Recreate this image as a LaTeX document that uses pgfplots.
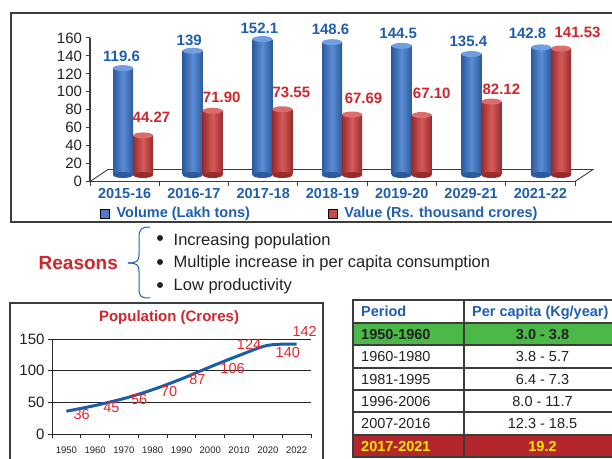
\documentclass[border=0pt]{standalone}
\usepackage{pgfplots}
\pgfplotsset{compat=1.18}
\usepackage{pgfplotstable}
\usepackage{fontspec}
\setmainfont{Liberation Sans}

\definecolor{bbd}{HTML}{2C5A9C}
\definecolor{bbm}{HTML}{5A8DD6}
\definecolor{bbt}{HTML}{6F9FE0}
\definecolor{rbd}{HTML}{9A2B2C}
\definecolor{rbm}{HTML}{D65A5A}
\definecolor{rbt}{HTML}{DB6E6D}
\definecolor{lblue}{HTML}{1F5FAD}
\definecolor{lred}{HTML}{D0262C}
\definecolor{popred}{HTML}{E8262B}
\definecolor{popline}{HTML}{1C5DAA}
\definecolor{framegray}{HTML}{3C3C3C}
\definecolor{rowgreen}{HTML}{4CB848}
\definecolor{rowred}{HTML}{B3272C}
\definecolor{rowyellow}{HTML}{FFE500}
\definecolor{legblue}{HTML}{4A7EC8}
\definecolor{legred}{HTML}{C84B4B}
\definecolor{txt}{HTML}{222222}

\pgfdeclareplotmark{cyltop}{\pgfpathellipse{\pgfpointorigin}{\pgfqpoint{10pt}{0pt}}{\pgfqpoint{0pt}{3pt}}\pgfusepathqfill}

\pgfplotstableread{
x vol val bx by rx ry
0 119.6 44.27 -1.5 12 8.5 18
1 139 71.90 -3.5 10.7 9 13.7
2 152.1 73.55 -3 11 9 17
3 148.6 67.69 -1.5 12.8 11.5 16.5
4 144.5 67.10 -3.5 12.5 10 22
5 135.4 82.12 -3 12.3 10 12.6
6 142.8 141.53 -13.5 14 16.5 16.5
}\bardata

\pgfplotstableread{
x p dx dy
0 36 15.3 -3
1 45 16.3 -2.3
2 56 15.3 -1.3
3 70 16.3 -2
4 87 16 -1.1
5 106 22.3 -1.4
6 124 10 11.5
7 140 20 -7.3
8 142 8 12.4
}\popdata

\begin{document}
\begin{tikzpicture}
\begin{scope}
\clip (0pt,0pt) rectangle (612pt,458pt);
\fill[white] (0pt,0pt) rectangle (612pt,458pt);
% top frame
\draw[framegray, line width=1.6pt] (11pt,445pt) rectangle (622pt,236pt);
% 3D floor
\draw[framegray, line width=0.9pt] (90pt,276.5pt) -- (108pt,288.5pt) -- (593pt,288.5pt) -- (575pt,276.5pt);

% frame axis of bar chart
\begin{axis}[at={(90pt,276.5pt)}, anchor=south west, scale only axis,
  width=485pt, height=143.5pt, xmin=-0.5, xmax=6.5, ymin=0, ymax=160,
  axis x line*=bottom, axis y line*=left,
  ytick={0,20,...,160},
  xtick={-0.5,0.5,...,6.5}, x tick label as interval,
  xticklabels={2015-16,2016-17,2017-18,2018-19,2019-20,2029-21,2021-22},
  tick align=outside, major tick length=4.5pt,
  axis line style={framegray, line width=1.1pt},
  tick style={framegray, line width=1pt},
  yticklabel style={font=\fontsize{15}{15}\selectfont, text=txt},
  xticklabel style={font=\fontsize{14.5}{14.5}\bfseries, text=lblue, yshift=1pt},
  /pgf/number format/assume math mode=true]
\addplot[draw=none] coordinates {(0,0)};
\end{axis}

% bars
\begin{axis}[at={(98.17pt,283pt)}, anchor=south west, scale only axis,
  width=487.7pt, height=143pt, xmin=-0.5, xmax=6.5, ymin=0, ymax=160,
  hide axis, clip=false,
  legend style={at={(axis description cs:0.0037,-0.269)}, anchor=west,
    draw=none, fill=none, inner sep=0pt,
    font=\fontsize{14.5}{14.5}\bfseries, text=lblue,
    /tikz/every odd column/.append style={column sep=5pt},
    /tikz/every even column/.append style={column sep=76pt}},
  legend columns=2,
  legend image code/.code={\fill[#1] (0pt,-4.5pt) rectangle (9pt,4.5pt);}]
\addplot[only marks, mark=cyltop, mark options={fill=bbd}, forget plot]
  table[x expr=\thisrow{x}-0.14354, y expr=0]{\bardata};
\addplot[only marks, mark=cyltop, mark options={fill=rbd}, forget plot]
  table[x expr=\thisrow{x}+0.14354, y expr=0]{\bardata};
\pgfplotsinvokeforeach{0,...,6}{
  \addplot[ybar, bar width=20pt, bar shift=-10pt, draw=none,
    left color=bbd, right color=bbd, middle color=bbm, forget plot,
    restrict expr to domain={\coordindex}{#1:#1}]
    table[x=x,y=vol]{\bardata};
  \addplot[ybar, bar width=20pt, bar shift=10pt, draw=none,
    left color=rbd, right color=rbd, middle color=rbm, forget plot,
    restrict expr to domain={\coordindex}{#1:#1}]
    table[x=x,y=val]{\bardata};
}
\addplot[only marks, mark=cyltop, mark options={fill=bbt}, forget plot,
  nodes near coords={\pgfmathprintnumber[assume math mode=true]{\pgfplotspointmeta}},
  visualization depends on={\thisrow{bx} \as \bx},
  visualization depends on={\thisrow{by} \as \by},
  every node near coord/.style={font=\fontsize{15}{15}\bfseries, text=lblue,
    anchor=center, xshift={\bx*1pt}, yshift={\by*1pt}}]
  table[x expr=\thisrow{x}-0.14354, y=vol]{\bardata};
\addplot[only marks, mark=cyltop, mark options={fill=rbt}, forget plot,
  nodes near coords={\pgfmathprintnumber[fixed,fixed zerofill,precision=2,assume math mode=true]{\pgfplotspointmeta}},
  visualization depends on={\thisrow{rx} \as \rx},
  visualization depends on={\thisrow{ry} \as \ry},
  every node near coord/.style={font=\fontsize{15}{15}\bfseries, text=lred,
    anchor=center, xshift={\rx*1pt}, yshift={\ry*1pt}}]
  table[x expr=\thisrow{x}+0.14354, y=val]{\bardata};
\addlegendimage{fill=legblue}
\addlegendentry{Volume (Lakh tons)}
\addlegendimage{fill=legred}
\addlegendentry{Value (Rs. thousand crores)}
\end{axis}

% Reasons
\node[anchor=base west, inner sep=0pt, font=\fontsize{19}{19}\bfseries, text=lred] at (38.5pt,189pt) {Reasons};
\draw[lblue, line width=1pt] (150pt,231pt) .. controls (141pt,231pt) and (139pt,229pt) .. (139pt,220pt) -- (139pt,203pt) .. controls (139pt,197pt) and (137pt,195pt) .. (128pt,195pt);
\draw[lblue, line width=1pt] (128pt,195pt) .. controls (137pt,195pt) and (139pt,193pt) .. (139pt,187pt) -- (139pt,170pt) .. controls (139pt,161pt) and (141pt,160pt) .. (150pt,160pt);
\fill[txt] (160pt,220pt) circle (3pt);
\fill[txt] (160pt,196pt) circle (3pt);
\fill[txt] (160pt,173pt) circle (3pt);
\node[anchor=base west, inner sep=0pt, font=\fontsize{16.5}{16.5}\selectfont, text=txt] at (173.5pt,212.7pt) {Increasing population};
\node[anchor=base west, inner sep=0pt, font=\fontsize{16.5}{16.5}\selectfont, text=txt] at (173.5pt,190.1pt) {Multiple increase in per capita consumption};
\node[anchor=base west, inner sep=0pt, font=\fontsize{16.5}{16.5}\selectfont, text=txt] at (173.5pt,167.1pt) {Low productivity};

% population frame
\draw[framegray, line width=1.4pt] (10pt,155pt) rectangle (323pt,-10pt);
\node[font=\fontsize{15}{15}\bfseries, text=lred] at (169pt,140.5pt) {Population (Crores)};
\begin{axis}[at={(52pt,24pt)}, anchor=south west, scale only axis,
  width=259pt, height=95pt, xmin=-0.5, xmax=8.5, ymin=0, ymax=150,
  axis x line*=bottom, axis y line*=left, clip=false,
  ytick={0,50,100,150}, ymajorgrids,
  grid style={black!85, line width=0.8pt},
  xtick={-0.5,0.5,...,8.5}, x tick label as interval,
  xticklabels={1950,1960,1970,1980,1990,2000,2010,2020,2022},
  tick align=outside, major tick length=4pt,
  axis line style={black!85, line width=1pt},
  tick style={black!85, line width=0.8pt},
  yticklabel style={font=\fontsize{15}{15}\selectfont, text=txt},
  xticklabel style={font=\fontsize{9.5}{9.5}\selectfont, text=txt, yshift=-5pt},
  /pgf/number format/assume math mode=true]
\addplot[popline, line width=3pt, smooth, tension=0.5,
  nodes near coords={\pgfmathprintnumber[assume math mode=true]{\pgfplotspointmeta}},
  visualization depends on={\thisrow{dx} \as \dx},
  visualization depends on={\thisrow{dy} \as \dy},
  every node near coord/.style={font=\fontsize{14.5}{14.5}\selectfont, text=popred,
    anchor=center, xshift={\dx*1pt}, yshift={\dy*1pt}}]
  table[x=x, y=p]{\popdata};
\end{axis}

% table
\fill[rowgreen] (353pt,135pt) rectangle (622pt,113pt);
\fill[rowred] (353pt,23pt) rectangle (622pt,1pt);
\foreach \yy in {135,113,90,68,46,23} {\draw[framegray, line width=1.2pt] (353pt,\yy pt) -- (622pt,\yy pt);}
\draw[framegray, line width=1.2pt] (464pt,158pt) -- (464pt,1pt);
\draw[framegray, line width=1.6pt] (353pt,158pt) rectangle (622pt,1pt);
\node[anchor=base west, inner sep=0pt, font=\fontsize{14.5}{14.5}\bfseries, text=lblue] at (361pt,141.3pt) {Period};
\node[anchor=base west, inner sep=0pt, font=\fontsize{14.5}{14.5}\bfseries, text=lblue] at (472pt,141.3pt) {Per capita (Kg/year)};
\node[anchor=base west, inner sep=0pt, font=\fontsize{14.5}{14.5}\bfseries, text=txt] at (361pt,118.8pt) {1950-1960};
\node[anchor=base, inner sep=0pt, font=\fontsize{14.5}{14.5}\bfseries, text=txt] at (542.5pt,118.8pt) {3.0 - 3.8};
\node[anchor=base west, inner sep=0pt, font=\fontsize{14.5}{14.5}\selectfont, text=txt] at (361pt,96.3pt) {1960-1980};
\node[anchor=base, inner sep=0pt, font=\fontsize{14.5}{14.5}\selectfont, text=txt] at (542.5pt,96.3pt) {3.8 - 5.7};
\node[anchor=base west, inner sep=0pt, font=\fontsize{14.5}{14.5}\selectfont, text=txt] at (361pt,73.8pt) {1981-1995};
\node[anchor=base, inner sep=0pt, font=\fontsize{14.5}{14.5}\selectfont, text=txt] at (542.5pt,73.8pt) {6.4 - 7.3};
\node[anchor=base west, inner sep=0pt, font=\fontsize{14.5}{14.5}\selectfont, text=txt] at (361pt,51.8pt) {1996-2006};
\node[anchor=base, inner sep=0pt, font=\fontsize{14.5}{14.5}\selectfont, text=txt] at (542.5pt,51.8pt) {8.0 - 11.7};
\node[anchor=base west, inner sep=0pt, font=\fontsize{14.5}{14.5}\selectfont, text=txt] at (361pt,29.3pt) {2007-2016};
\node[anchor=base, inner sep=0pt, font=\fontsize{14.5}{14.5}\selectfont, text=txt] at (542.5pt,29.3pt) {12.3 - 18.5};
\node[anchor=base west, inner sep=0pt, font=\fontsize{14.5}{14.5}\bfseries, text=rowyellow] at (361pt,6.8pt) {2017-2021};
\node[anchor=base, inner sep=0pt, font=\fontsize{14.5}{14.5}\bfseries, text=rowyellow] at (542.5pt,6.8pt) {19.2};
\end{scope}
\pgfresetboundingbox
\path[use as bounding box] (0pt,0pt) rectangle (612pt,458pt);
\end{tikzpicture}
\end{document}
